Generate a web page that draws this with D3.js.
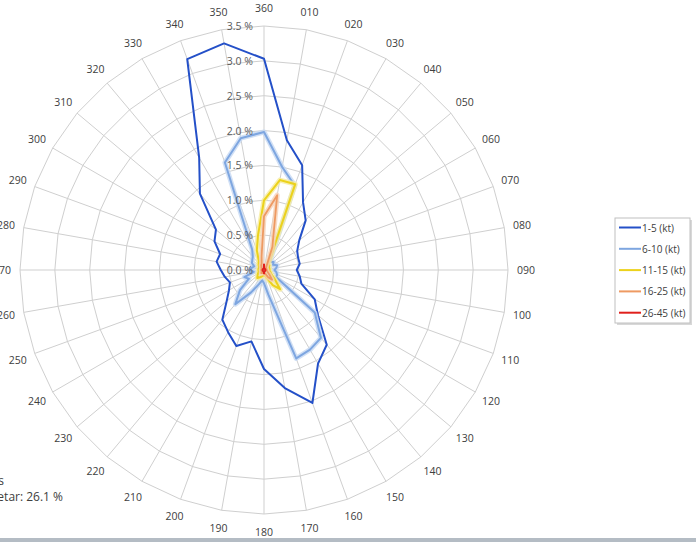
<!DOCTYPE html>
<html>
<head>
<meta charset="utf-8">
<script src="https://cdn.jsdelivr.net/npm/d3@7/dist/d3.min.js"></script>
<style>
  html, body { margin: 0; padding: 0; background: #fff; }
  svg { display: block; font-family: "Open Sans", "Noto Sans", sans-serif; }
</style>
</head>
<body>
<svg id="chart" width="696" height="542"></svg>
<script>
// Direction labels (every 10 degrees, starting at north)
const directions = ["360","010","020","030","040","050","060","070","080","090",
  "100","110","120","130","140","150","160","170","180","190","200","210","220",
  "230","240","250","260","270","280","290","300","310","320","330","340","350"];
const ringTicks = [0, 0.5, 1.0, 1.5, 2.0, 2.5, 3.0, 3.5];
const ringLabels = ["0.0 %","0.5 %","1.0 %","1.5 %","2.0 %","2.5 %","3.0 %","3.5 %"];
const seriesNames = ["1-5 (kt)", "6-10 (kt)", "11-15 (kt)", "16-25 (kt)", "26-45 (kt)"];

// Frequency (%) per direction, order as in `directions`
const s1_5 = [3.03,1.89,1.60,1.12,0.93,0.66,0.55,0.52,0.52,0.47,0.52,0.57,
  0.84,1.01,1.40,1.55,2.03,1.72,1.42,1.04,1.16,1.03,0.93,0.70,
  0.58,0.52,0.57,0.62,0.69,0.67,0.82,0.90,1.43,1.86,3.22,3.30];
const s6_10 = [1.98,1.50,1.29,0.20,0.15,0.18,0.15,0.20,0.18,0.15,0.18,0.20,
  0.20,0.95,1.27,1.32,1.35,0.36,0.19,0.15,0.22,0.37,0.64,0.45,
  0.25,0.30,0.15,0.20,0.18,0.15,0.20,0.22,0.25,0.34,1.64,1.92];
const s11_15 = [1.00,1.31,1.31,0.15,0.10,0.10,0.08,0.08,0.08,0.08,0.08,0.10,
  0.12,0.20,0.36,0.25,0.12,0.08,0.08,0.08,0.10,0.12,0.15,0.12,
  0.10,0.08,0.08,0.08,0.08,0.08,0.08,0.10,0.12,0.15,0.30,0.50];
const s16_25 = [0.77,1.09,0.35,0.08,0.05,0.04,0.04,0.04,0.04,0.04,0.04,0.05,
  0.06,0.10,0.18,0.12,0.06,0.04,0.04,0.04,0.04,0.05,0.06,0.05,
  0.04,0.04,0.04,0.04,0.04,0.04,0.04,0.05,0.06,0.08,0.10,0.20];
const s26_45 = [0.08,0.02,0.02,0.02,0.02,0.02,0.02,0.02,0.02,0.02,0.02,0.02,
  0.02,0.02,0.02,0.02,0.02,0.02,0.05,0.02,0.02,0.02,0.02,0.02,
  0.02,0.02,0.02,0.02,0.02,0.02,0.02,0.02,0.02,0.02,0.02,0.02];
const calmText = ["Antall obs", "Vindstille i metar: 26.1 %"];

const seriesValues = [s1_5, s6_10, s11_15, s16_25, s26_45];
const colors = ["#2450c8", "#7ea6e0", "#ecd21c", "#ee9a62", "#e0201c"];
const glow = [null, "#c6d8f2", "#f6ec9c", "#f6d2b6", null];
const widths = [2, 2, 2, 1.8, 2];

const svg = d3.select("#chart");
const cx = 264, cy = 270, R = 244;
const n = directions.length;

const angle = d3.scaleLinear().domain([0, n]).range([0, 2 * Math.PI]);
const rScale = d3.scaleLinear().domain([0, 3.5]).range([0, R]);

const g = svg.append("g").attr("transform", `translate(${cx},${cy})`);

const polar = (i, v) => {
  const a = angle(i);
  return [Math.sin(a) * rScale(v), -Math.cos(a) * rScale(v)];
};

// Grid rings (polygons)
const ringLine = d3.lineRadial().curve(d3.curveLinearClosed)
  .angle((d, i) => angle(i)).radius(d => rScale(d));
ringTicks.slice(1).forEach(t => {
  g.append("path").attr("d", ringLine(directions.map(() => t)))
    .attr("fill", "none").attr("stroke", "#cfcfcf").attr("stroke-width", 1);
});
// Spokes
directions.forEach((d, i) => {
  const p = polar(i, 3.5);
  g.append("line").attr("x1", 0).attr("y1", 0).attr("x2", p[0]).attr("y2", p[1])
    .attr("stroke", "#cfcfcf").attr("stroke-width", 1);
});

// Direction labels
directions.forEach((d, i) => {
  const a = angle(i);
  const rr = R + 18;
  g.append("text").attr("x", Math.sin(a) * rr).attr("y", -Math.cos(a) * rr)
    .attr("text-anchor", "middle").attr("dominant-baseline", "central")
    .attr("font-size", 10.5).attr("fill", "#404040").text(d);
});

// Series
const seriesLine = d3.lineRadial().curve(d3.curveLinearClosed)
  .angle((d, i) => angle(i)).radius(d => rScale(d));
seriesValues.forEach((vals, k) => {
  if (glow[k]) {
    g.append("path").attr("d", seriesLine(vals)).attr("fill", "none")
      .attr("stroke", glow[k]).attr("stroke-width", 5).attr("stroke-linejoin", "round")
      .attr("opacity", 0.8);
  }
  g.append("path").attr("d", seriesLine(vals)).attr("fill", "none")
    .attr("stroke", colors[k]).attr("stroke-width", widths[k]).attr("stroke-linejoin", "round");
});

// Ring value labels
ringTicks.forEach((t, i) => {
  g.append("text").attr("x", -11).attr("y", -rScale(t))
    .attr("text-anchor", "end").attr("dominant-baseline", "central")
    .attr("font-size", 10.5).attr("fill", "#595959").text(ringLabels[i]);
});

// Legend
const lg = svg.append("g").attr("transform", "translate(615,218)");
lg.append("rect").attr("x", 2).attr("y", 2).attr("width", 75).attr("height", 105)
  .attr("fill", "#d8d8d8");
lg.append("rect").attr("x", 0).attr("y", 0).attr("width", 75).attr("height", 105)
  .attr("fill", "#fff").attr("stroke", "#c0c0c0");
seriesNames.forEach((name, k) => {
  const y = 9.5 + k * 21.3;
  lg.append("line").attr("x1", 4).attr("x2", 26).attr("y1", y).attr("y2", y)
    .attr("stroke", colors[k]).attr("stroke-width", 2);
  lg.append("text").attr("x", 27).attr("y", y).attr("dominant-baseline", "central")
    .attr("font-size", 10).attr("fill", "#404040").text(name);
});

// Bottom-left notes (clipped by the left edge, as in the reference)
svg.append("text").attr("x", 4).attr("y", 480).attr("text-anchor", "end")
  .attr("dominant-baseline", "central").attr("font-size", 12).attr("fill", "#404040")
  .text(calmText[0]);
svg.append("text").attr("x", 63).attr("y", 496).attr("text-anchor", "end")
  .attr("dominant-baseline", "central").attr("font-size", 12).attr("fill", "#404040")
  .text(calmText[1]);

// Bottom border line
svg.append("rect").attr("x", 0).attr("y", 538).attr("width", 696).attr("height", 4)
  .attr("fill", "#b4bcc4");
</script>
</body>
</html>
